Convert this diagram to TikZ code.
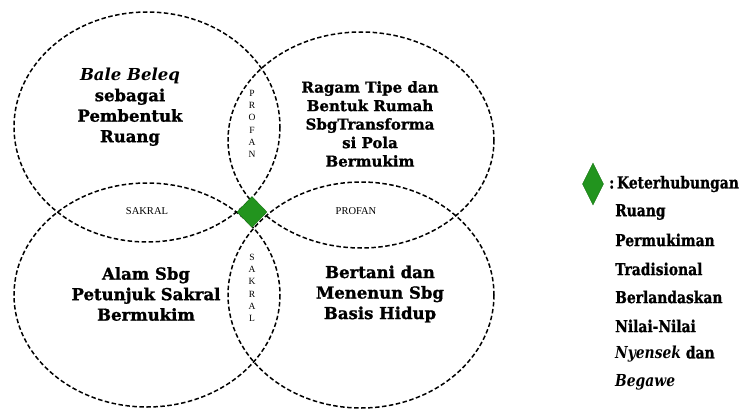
\documentclass[tikz,border=0pt]{standalone}
\usepackage{fontspec}
\setmainfont{Liberation Serif}
\newfontfamily\slabfont[BoldFeatures={FakeBold=1.2}]{DejaVu Serif}
\newfontfamily\legfont[FakeStretch=0.84, BoldFeatures={FakeBold=1.0}]{DejaVu Serif}
\usetikzlibrary{shapes.geometric}
\definecolor{gemgreen}{RGB}{34,148,30}
\definecolor{gemedge}{RGB}{26,120,22}
\begin{document}
\begin{tikzpicture}[x=1pt,y=-1pt,
  ring/.style={draw, dashed, dash pattern=on 4.5pt off 2.5pt, line width=1.5pt},
  bigtxt/.style={align=center, font=\slabfont\bfseries\fontsize{16.5}{20.5}\selectfont, inner sep=0pt},
  midtxt/.style={align=center, font=\slabfont\bfseries\fontsize{15}{18.5}\selectfont, inner sep=0pt},
  smalltxt/.style={font=\fontsize{10.5}{10.5}\selectfont, inner sep=0pt},
  vtxt/.style={align=center, font=\fontsize{9.5}{12.3}\selectfont, inner sep=0pt},
  gem/.style={diamond, fill=gemgreen, draw=gemedge, inner sep=0pt, minimum width=30pt, minimum height=31pt},
  leg/.style={anchor=west, font=\legfont\bfseries\fontsize{16.5}{16.5}\selectfont, inner sep=0pt}]
\useasboundingbox (0,0) rectangle (744,409);
% four overlapping dashed ellipses
\draw[ring] (147,127) ellipse [x radius=133, y radius=115];
\draw[ring] (361,140) ellipse [x radius=133, y radius=108];
\draw[ring] (147,295) ellipse [x radius=133, y radius=112];
\draw[ring] (361,295) ellipse [x radius=133, y radius=113];
% shared centre
\node[gem] (hub) at (252,212) {};
% texts inside the ellipses
\node[bigtxt] (tl) at (130,107) {\textit{Bale Beleq}\\sebagai\\Pembentuk\\Ruang};
\node[midtxt] (tr) at (370,124) {Ragam Tipe dan\\Bentuk Rumah\\SbgTransforma\\si Pola\\Bermukim};
\node[bigtxt] (bl) at (146,294) {Alam Sbg\\Petunjuk Sakral\\Bermukim};
\node[bigtxt] (br) at (380,294) {Bertani dan\\Menenun Sbg\\Basis Hidup};
% overlap labels
\node[smalltxt] (sl) at (147,211) {SAKRAL};
\node[smalltxt] (pr) at (356,211) {PROFAN};
\node[vtxt] (pv) at (252,124) {P\\R\\O\\F\\A\\N};
\node[vtxt] (sv) at (252,288) {S\\A\\K\\R\\A\\L};
% legend
\node[gem, minimum width=21pt, minimum height=42pt] (key) at (593,184) {};
\node[leg] (k1) at (609,184) {:\,Keterhubungan};
\node[leg] (k2) at (615,212) {Ruang};
\node[leg] (k3) at (615,240) {Permukiman};
\node[leg] (k4) at (615,269) {Tradisional};
\node[leg] (k5) at (615,297) {Berlandaskan};
\node[leg] (k6) at (615,326) {Nilai-Nilai};
\node[leg] (k7) at (615,354) {\textit{Nyensek} dan};
\node[leg] (k8) at (615,382) {\textit{Begawe}};
\end{tikzpicture}
\end{document}
